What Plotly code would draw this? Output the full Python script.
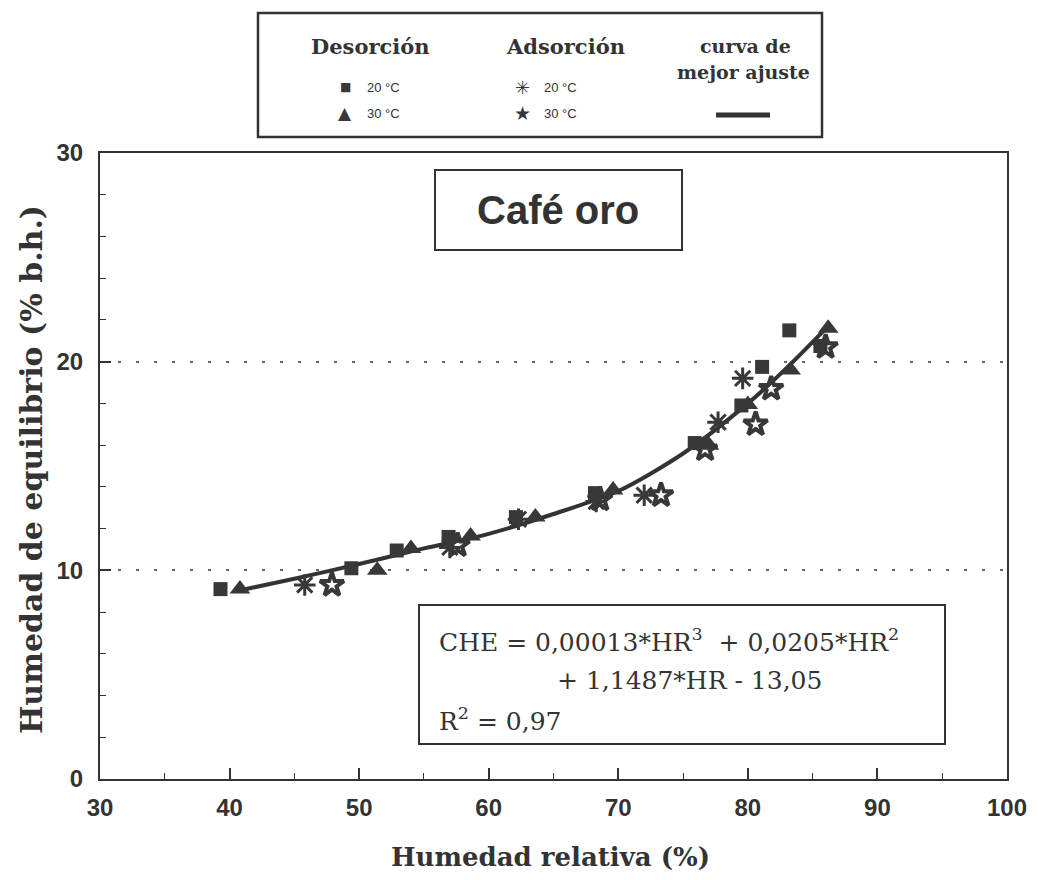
import plotly.graph_objects as go

# ---------------- data ----------------
des20_x = [39.3, 49.4, 52.9, 56.9, 62.1, 68.2, 75.9, 79.5, 81.1, 83.2, 85.6]
des20_y = [9.1, 10.1, 10.95, 11.6, 12.55, 13.7, 16.1, 17.9, 19.75, 21.5, 20.75]

des30_x = [40.8, 51.4, 54.0, 58.6, 63.6, 69.6, 77.0, 80.0, 83.3, 86.2]
des30_y = [9.1, 10.0, 11.05, 11.65, 12.55, 13.85, 16.0, 17.95, 19.6, 21.6]

ads20_x = [45.8, 57.0, 62.3, 68.3, 72.0, 77.7, 79.6]
ads20_y = [9.3, 11.1, 12.45, 13.3, 13.6, 17.1, 19.2]

ads30_x = [47.9, 57.6, 68.6, 73.3, 76.7, 80.6, 81.8, 86.0]
ads30_y = [9.3, 11.2, 13.4, 13.6, 15.8, 17.0, 18.7, 20.7]

fit_x = [40.5, 45, 50, 55, 60, 65, 70, 75, 80, 83, 86.2]
fit_y = [9.0, 9.6, 10.3, 11.05, 11.75, 12.7, 13.8, 15.6, 18.0, 19.7, 21.7]

x_ticks = [30, 40, 50, 60, 70, 80, 90, 100]
y_ticks = [0, 10, 20, 30]

# ---------------- layout helpers ----------------
W, H = 1039, 880
L, R, T, B = 100, 1007, 153, 779
def px(x):
    return (x - L) / (R - L)
def py(y):
    return (B - y) / (B - T)

INK = "#333333"
MK = "#383838"
NB = "\u00a0"

fig = go.Figure()

fig.add_trace(go.Scatter(x=fit_x, y=fit_y, mode="lines", line=dict(color=INK, width=4, shape="spline", smoothing=0.8),
                         name="curva de mejor ajuste", showlegend=False))
fig.add_trace(go.Scatter(x=des20_x, y=des20_y, mode="markers", name="Desorción 20 °C", showlegend=False,
                         marker=dict(symbol="square", size=14, color=MK)))
fig.add_trace(go.Scatter(x=des30_x, y=des30_y, mode="markers", name="Desorción 30 °C", showlegend=False,
                         marker=dict(symbol="triangle-up", size=18, color=MK)))
fig.add_trace(go.Scatter(x=ads20_x, y=ads20_y, mode="markers", name="Adsorción 20 °C", showlegend=False,
                         marker=dict(symbol="asterisk-open", size=18, color=MK, line=dict(color=MK, width=3))))
fig.add_trace(go.Scatter(x=ads30_x, y=ads30_y, mode="markers", name="Adsorción 30 °C", showlegend=False,
                         marker=dict(symbol="star-open", size=18, color=MK, line=dict(color=MK, width=4))))

tickfont = dict(family="Liberation Sans", size=24, color=INK, weight="bold")

fig.update_xaxes(range=[30, 100], tickvals=x_ticks, ticks="inside", ticklen=11, tickwidth=1.5, tickcolor=INK,
                 showline=True, linewidth=2, linecolor=INK, mirror=True, showgrid=False, zeroline=False,
                 tickfont=tickfont, ticklabelstandoff=6,
                 minor=dict(dtick=5, ticks="inside", ticklen=6, tickwidth=1.2, tickcolor=INK))
fig.update_yaxes(range=[0, 30], tickvals=y_ticks, ticks="inside", ticklen=11, tickwidth=1.5, tickcolor=INK,
                 showline=True, linewidth=2, linecolor=INK, mirror=True, showgrid=True, gridcolor="#666666",
                 gridwidth=1.5, griddash="3px,15px", zeroline=False, tickfont=tickfont, ticklabelstandoff=10,
                 minor=dict(dtick=2, ticks="inside", ticklen=6, tickwidth=1.2, tickcolor=INK, showgrid=False))

shapes = []
ann = []

def note(x, y, text, font, xanchor="center", **kw):
    ann.append(dict(x=px(x), y=py(y), xref="paper", yref="paper", showarrow=False, text=text, font=font,
                    xanchor=xanchor, yanchor="middle", **kw))

# axis titles
note(550, 857, "Humedad relativa (%)", dict(family="DejaVu Serif", size=26, color=INK, weight="bold"))
note(31, 470, "Humedad de equilibrio (% b.h.)", dict(family="DejaVu Serif", size=30, color=INK, weight="bold"),
     textangle=-90)

# title box "Café oro"
shapes.append(dict(type="rect", xref="paper", yref="paper", x0=px(435), x1=px(682), y0=py(170), y1=py(250),
                   line=dict(color=INK, width=2), fillcolor="white", layer="below"))
note(558, 210, "Café oro", dict(family="Liberation Sans", size=40, color=INK, weight="bold"))

# equation box
shapes.append(dict(type="rect", xref="paper", yref="paper", x0=px(419), x1=px(945), y0=py(605), y1=py(744),
                   line=dict(color=INK, width=2), fillcolor="white", layer="below"))
eqfont = dict(family="DejaVu Serif", size=25, color=INK)
note(437, 640, f"CHE{NB}={NB}0,00013*HR<sup>3</sup>{NB}{NB}+{NB}0,0205*HR<sup>2</sup>", eqfont, xanchor="left")
note(555, 680, "+ 1,1487*HR - 13,05", eqfont, xanchor="left")
note(437, 719, "R<sup>2</sup> = 0,97", eqfont, xanchor="left")

# legend box
shapes.append(dict(type="rect", xref="paper", yref="paper", x0=px(258), x1=px(822), y0=py(13), y1=py(137),
                   line=dict(color=INK, width=2.5), fillcolor="white"))
hfont = dict(family="DejaVu Serif", size=21, color=INK, weight="bold")
note(370, 47, "Desorción", hfont)
note(565, 47, "Adsorción", hfont)
note(745, 46, "curva de", dict(family="DejaVu Serif", size=19, color=INK, weight="bold"))
note(743, 72, "mejor ajuste", dict(family="DejaVu Serif", size=19, color=INK, weight="bold"))
sfont = dict(family="Liberation Sans", size=13, color=INK)
for gx, gy, g, lab, gs in [(345, 87, "■", "20 °C", 12), (345, 113, "▲", "30 °C", 17),
                           (522, 87, "✳", "20 °C", 18), (522, 113, "★", "30 °C", 19)]:
    note(gx, gy, g, dict(family="DejaVu Sans", size=gs, color=MK))
    note(gx + 20, gy, lab, sfont, xanchor="left")
shapes.append(dict(type="line", xref="paper", yref="paper", x0=px(716), x1=px(770), y0=py(115), y1=py(115),
                   line=dict(color=INK, width=5)))

fig.update_layout(width=W, height=H, margin=dict(l=L, r=W - R, t=T, b=H - B, pad=0),
                  plot_bgcolor="white", paper_bgcolor="white", showlegend=False,
                  shapes=shapes, annotations=ann)

fig.write_html("out.html")
